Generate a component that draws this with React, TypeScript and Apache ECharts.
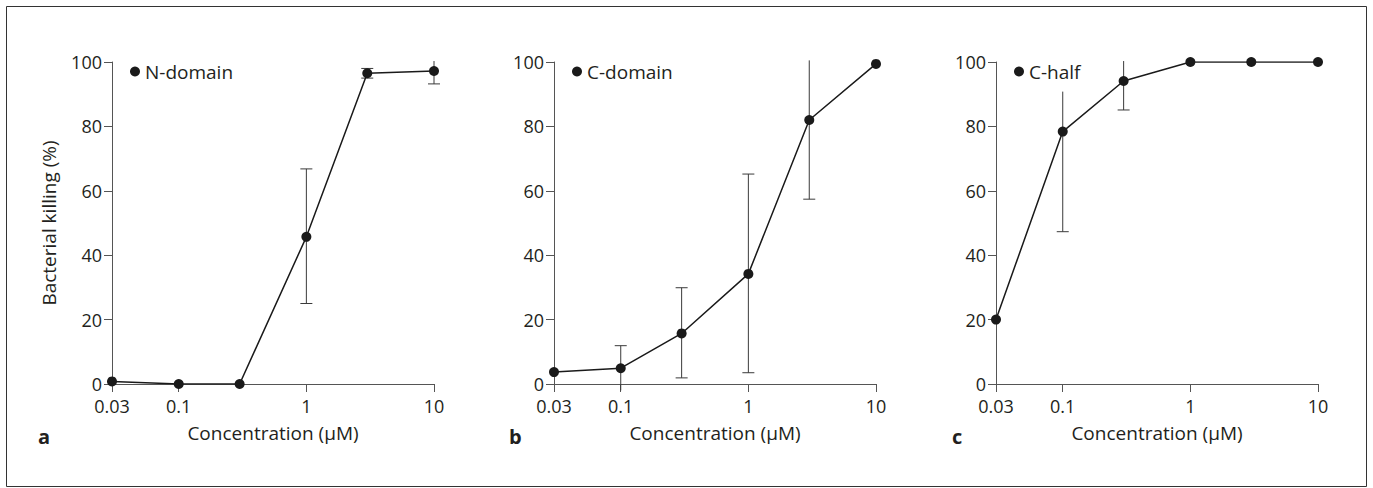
import React, { useEffect, useRef } from "react";
import * as echarts from "echarts";

const concentrations = [0.03, 0.1, 0.3, 1, 3, 10];
const tickValues = [0.03, 0.1, 1, 10];
const tickLabels = ["0.03", "0.1", "1", "10"];

const seriesNames = ["N-domain", "C-domain", "C-half"];
const panelLetters = ["a", "b", "c"];

const killN = [0.8, 0, 0, 45.7, 96.5, 97.2];
const lowN = [null, null, null, 25, 95, 93.2];
const highN = [null, null, null, 66.8, 98, 100.3];
const capLowN = [0, 0, 0, 1, 1, 1];
const capHighN = [0, 0, 0, 1, 1, 0];

const killC = [3.7, 4.9, 15.7, 34.2, 82, 99.4];
const lowC = [null, -2, 1.9, 3.5, 57.4, null];
const highC = [null, 11.9, 29.9, 65.2, 100.5, null];
const capLowC = [0, 0, 1, 1, 1, 0];
const capHighC = [0, 1, 1, 1, 0, 0];

const killH = [20, 78.4, 94.1, 100, 100, 100];
const lowH = [null, 47.3, 85.1, null, null, null];
const highH = [null, 90.8, 100.3, null, null, null];
const capLowH = [0, 1, 1, 0, 0, 0];
const capHighH = [0, 0, 0, 0, 0, 0];

const panels = [
  { kill: killN, low: lowN, high: highN, capLow: capLowN, capHigh: capHighN },
  { kill: killC, low: lowC, high: highC, capLow: capLowC, capHigh: capHighC },
  { kill: killH, low: lowH, high: highH, capLow: capLowH, capHigh: capHighH },
];

const FONT = "Open Sans";
const TEXT = "#231f20";
const AXIS = "#555";
const gridLefts = [112, 554, 996];

export default function App() {
  const ref = useRef<HTMLDivElement>(null);
  useEffect(() => {
    if (!ref.current) return;
    const chart = echarts.init(ref.current, null, { renderer: "svg" });
    const lx = (v: number) => Math.log10(v);
    const tickLogs = tickValues.map(lx);
    const fmt = (v: number) => {
      for (let i = 0; i < tickLogs.length; i++) {
        if (Math.abs(tickLogs[i] - v) < 1e-6) return tickLabels[i];
      }
      return "";
    };

    const grids = gridLefts.map((left) => ({ left, top: 62, width: 322, height: 322 }));
    const xAxes = gridLefts.map((_, i) => ({
      type: "value",
      gridIndex: i,
      min: lx(0.03),
      max: 1,
      name: "Concentration (μM)",
      nameLocation: "middle",
      nameGap: 39,
      nameTextStyle: { fontFamily: FONT, fontSize: 19, color: TEXT },
      axisLine: { show: true, onZero: false, lineStyle: { color: AXIS, width: 1 } },
      axisTick: { show: true, length: 8, lineStyle: { color: AXIS }, customValues: tickLogs },
      axisLabel: {
        customValues: tickLogs,
        formatter: fmt,
        fontFamily: FONT,
        fontSize: 18,
        color: TEXT,
        margin: 13,
      },
      splitLine: { show: false },
    }));
    const yAxes = gridLefts.map((_, i) => ({
      type: "value",
      gridIndex: i,
      min: 0,
      max: 100,
      interval: 20,
      name: i === 0 ? "Bacterial killing (%)" : "",
      nameLocation: "middle",
      nameGap: 54,
      nameTextStyle: { fontFamily: FONT, fontSize: 19, color: TEXT },
      axisLine: { show: true, onZero: false, lineStyle: { color: AXIS, width: 1 } },
      axisTick: { show: true, length: 8, lineStyle: { color: AXIS } },
      axisLabel: { fontFamily: FONT, fontSize: 18, color: TEXT, margin: 10 },
      splitLine: { show: false },
    }));

    const series: any[] = [];
    panels.forEach((p, i) => {
      const errData: any[] = [];
      concentrations.forEach((c, j) => {
        if (p.low[j] !== null && p.high[j] !== null) {
          errData.push([lx(c), p.low[j], p.high[j], p.capLow[j], p.capHigh[j]]);
        }
      });
      series.push({
        type: "custom",
        xAxisIndex: i,
        yAxisIndex: i,
        z: 1,
        silent: true,
        data: errData,
        renderItem: (params: any, api: any) => {
          const x = api.value(0);
          const lo = api.coord([x, api.value(1)]);
          const hi = api.coord([x, api.value(2)]);
          const style = { stroke: "#3a3a3a", lineWidth: 1 };
          const children: any[] = [
            { type: "line", shape: { x1: lo[0], y1: lo[1], x2: hi[0], y2: hi[1] }, style },
          ];
          if (api.value(3)) {
            children.push({ type: "line", shape: { x1: lo[0] - 6, y1: lo[1], x2: lo[0] + 6, y2: lo[1] }, style });
          }
          if (api.value(4)) {
            children.push({ type: "line", shape: { x1: hi[0] - 6, y1: hi[1], x2: hi[0] + 6, y2: hi[1] }, style });
          }
          return { type: "group", children };
        },
      });
      series.push({
        type: "line",
        name: seriesNames[i],
        xAxisIndex: i,
        yAxisIndex: i,
        z: 3,
        data: concentrations.map((c, j) => [lx(c), p.kill[j]]),
        symbol: "circle",
        symbolSize: 10,
        showSymbol: true,
        itemStyle: { color: "#1a1a1a" },
        lineStyle: { color: "#1a1a1a", width: 1.5 },
      });
    });

    const legends = gridLefts.map((left, i) => ({
      data: [{ name: seriesNames[i], icon: "circle" }],
      left: left + 18,
      top: 62,
      itemWidth: 10,
      itemHeight: 10,
      itemGap: 5,
      padding: 0,
      selectedMode: false,
      textStyle: { fontFamily: FONT, fontSize: 19, color: TEXT, padding: [0, 0, 0, 0] },
    }));

    const letterX = [38, 509, 952];
    const graphic: any[] = [
      {
        type: "rect",
        shape: { x: 6.5, y: 6.5, width: 1360, height: 480 },
        style: { fill: "none", stroke: "#333", lineWidth: 1 },
        silent: true,
      },
      ...panelLetters.map((t, i) => ({
        type: "text",
        x: letterX[i],
        y: 436,
        style: {
          text: t,
          fontFamily: FONT,
          fontWeight: "bold",
          fontSize: 20,
          fill: TEXT,
          verticalAlign: "middle",
        },
      })),
    ];

    chart.setOption({
      animation: false,
      backgroundColor: "#fff",
      grid: grids,
      xAxis: xAxes,
      yAxis: yAxes,
      legend: legends,
      series,
      graphic,
    });
    return () => chart.dispose();
  }, []);
  return (
    <div
      ref={ref}
      style={{ position: "absolute", left: 0, top: 0, width: 1373, height: 488 }}
    />
  );
}
